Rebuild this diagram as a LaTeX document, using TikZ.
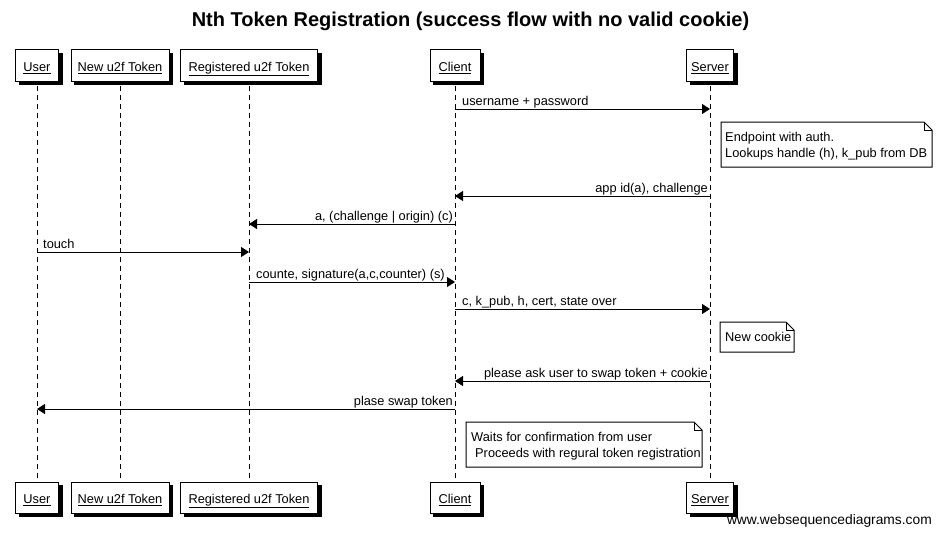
\documentclass[tikz,border=0pt]{standalone}
\usepackage{fontspec}
\setmainfont{Liberation Sans}
\usetikzlibrary{arrows.meta,backgrounds}
\begin{document}
\begin{tikzpicture}[x=1pt,y=-1pt,
  font=\fontsize{12.8}{15}\selectfont,
  actor/.style={draw, fill=white, line width=1pt, minimum height=31pt, inner xsep=2pt, inner ysep=0pt,
    text height=13pt, text depth=1pt},
  shade/.style={fill=black},
  life/.style={line width=1pt, dash pattern=on 5pt off 4pt},
  msg/.style={line width=1pt, -{Triangle[length=8pt,width=10pt]}},
  lbl/.style={inner sep=0pt},
  notebox/.style={draw, fill=white, line width=1pt, line join=miter},
]
\useasboundingbox (0,0) rectangle (941,535);

% title
\node[font=\bfseries\fontsize{20}{24}\selectfont] (title) at (470.5,21) {Nth Token Registration (success flow with no valid cookie)};

% participants (top)
\node[actor, minimum width=43pt]  (uT) at (37,65.5)  {\underline{User}};
\node[actor, minimum width=98pt]  (nT) at (120,65.5) {\underline{New u2f Token}};
\node[actor, minimum width=137pt] (rT) at (249,65.5) {\underline{Registered u2f Token}};
\node[actor, minimum width=50pt]  (cT) at (455,65.5) {\underline{Client}};
\node[actor, minimum width=47pt]  (sT) at (710,65.5) {\underline{Server}};
% participants (bottom)
\node[actor, minimum width=43pt]  (uB) at (37,497.5)  {\underline{User}};
\node[actor, minimum width=98pt]  (nB) at (120,497.5) {\underline{New u2f Token}};
\node[actor, minimum width=137pt] (rB) at (249,497.5) {\underline{Registered u2f Token}};
\node[actor, minimum width=50pt]  (cB) at (455,497.5) {\underline{Client}};
\node[actor, minimum width=47pt]  (sB) at (710,497.5) {\underline{Server}};

% shadows
\begin{scope}[on background layer]
\foreach \p in {uT,nT,rT,cT,sT,uB,nB,rB,cB,sB}
  \fill[shade] ([shift={(3.5pt,-3.5pt)}]\p.south west) rectangle ([shift={(3.5pt,-3.5pt)}]\p.north east);
\end{scope}

% lifelines
\draw[life] ([yshift=-4pt]uT.south) -- (uB.north);
\draw[life] ([yshift=-4pt]nT.south) -- (nB.north);
\draw[life] ([yshift=-4pt]rT.south) -- (rB.north);
\draw[life] ([yshift=-4pt]cT.south) -- (cB.north);
\draw[life] ([yshift=-4pt]sT.south) -- (sB.north);

% message 1
\coordinate (m1a) at (455,109); \coordinate (m1b) at (710,109);
\draw[msg] (m1a) -- (m1b);
\node[lbl, anchor=base west] (l1) at ([xshift=7pt,yshift=4pt]m1a) {username + password};

% note 1
\coordinate (n1a) at (721,122); \coordinate (n1b) at (932,167);
\draw[notebox] (n1a) -- ([xshift=-8pt]n1b |- n1a) coordinate (n1f) -- ([yshift=-8pt]n1b |- n1a) -- (n1b) -- (n1a |- n1b) -- cycle;
\draw[line width=1pt] (n1f) -- ++(0,8) -- ([yshift=-8pt]n1b |- n1a);
\node[lbl, anchor=base west] (t1a) at (725,141.5) {Endpoint with auth.};
\node[lbl, anchor=base west] (t1b) at (725,157) {Lookups handle (h), k\_pub from DB};

% message 2
\coordinate (m2a) at (710,196); \coordinate (m2b) at (455,196);
\draw[msg] (m2a) -- (m2b);
\node[lbl, anchor=base east] (l2) at ([xshift=-2pt,yshift=4pt]m2a) {app id(a), challenge};

% message 3
\coordinate (m3a) at (455,224); \coordinate (m3b) at (249,224);
\draw[msg] (m3a) -- (m3b);
\node[lbl, anchor=base east] (l3) at ([xshift=-2pt,yshift=4pt]m3a) {a, (challenge | origin) (c)};

% message 4
\coordinate (m4a) at (37,252); \coordinate (m4b) at (249,252);
\draw[msg] (m4a) -- (m4b);
\node[lbl, anchor=base west] (l4) at ([xshift=6pt,yshift=4pt]m4a) {touch};

% message 5
\coordinate (m5a) at (249,282); \coordinate (m5b) at (455,282);
\draw[msg] (m5a) -- (m5b);
\node[lbl, anchor=base west] (l5) at ([xshift=7pt,yshift=4pt]m5a) {counte, signature(a,c,counter) (s)};

% message 6
\coordinate (m6a) at (455,309); \coordinate (m6b) at (710,309);
\draw[msg] (m6a) -- (m6b);
\node[lbl, anchor=base west] (l6) at ([xshift=7pt,yshift=4pt]m6a) {c, k\_pub, h, cert, state over};

% note 2
\coordinate (n2a) at (720,322); \coordinate (n2b) at (794,352);
\draw[notebox] (n2a) -- ([xshift=-8pt]n2b |- n2a) coordinate (n2f) -- ([yshift=-8pt]n2b |- n2a) -- (n2b) -- (n2a |- n2b) -- cycle;
\draw[line width=1pt] (n2f) -- ++(0,8) -- ([yshift=-8pt]n2b |- n2a);
\node[lbl, anchor=base west] (t2) at (725,341.5) {New cookie};

% message 7
\coordinate (m7a) at (710,381); \coordinate (m7b) at (455,381);
\draw[msg] (m7a) -- (m7b);
\node[lbl, anchor=base east] (l7) at ([xshift=-2pt,yshift=4pt]m7a) {please ask user to swap token + cookie};

% message 8
\coordinate (m8a) at (455,409); \coordinate (m8b) at (37,409);
\draw[msg] (m8a) -- (m8b);
\node[lbl, anchor=base east] (l8) at ([xshift=-2pt,yshift=4pt]m8a) {plase swap token};

% note 3
\coordinate (n3a) at (466,422); \coordinate (n3b) at (702,467);
\draw[notebox] (n3a) -- ([xshift=-8pt]n3b |- n3a) coordinate (n3f) -- ([yshift=-8pt]n3b |- n3a) -- (n3b) -- (n3a |- n3b) -- cycle;
\draw[line width=1pt] (n3f) -- ++(0,8) -- ([yshift=-8pt]n3b |- n3a);
\node[lbl, anchor=base west] (t3a) at (471,441.5) {Waits for confirmation from user};
\node[lbl, anchor=base west] (t3b) at (475,457) {Proceeds with regural token registration};

% footer
\node[lbl, anchor=base east, font=\fontsize{13.8}{16}\selectfont] (foot) at (932,524) {www.websequencediagrams.com};
\end{tikzpicture}
\end{document}
